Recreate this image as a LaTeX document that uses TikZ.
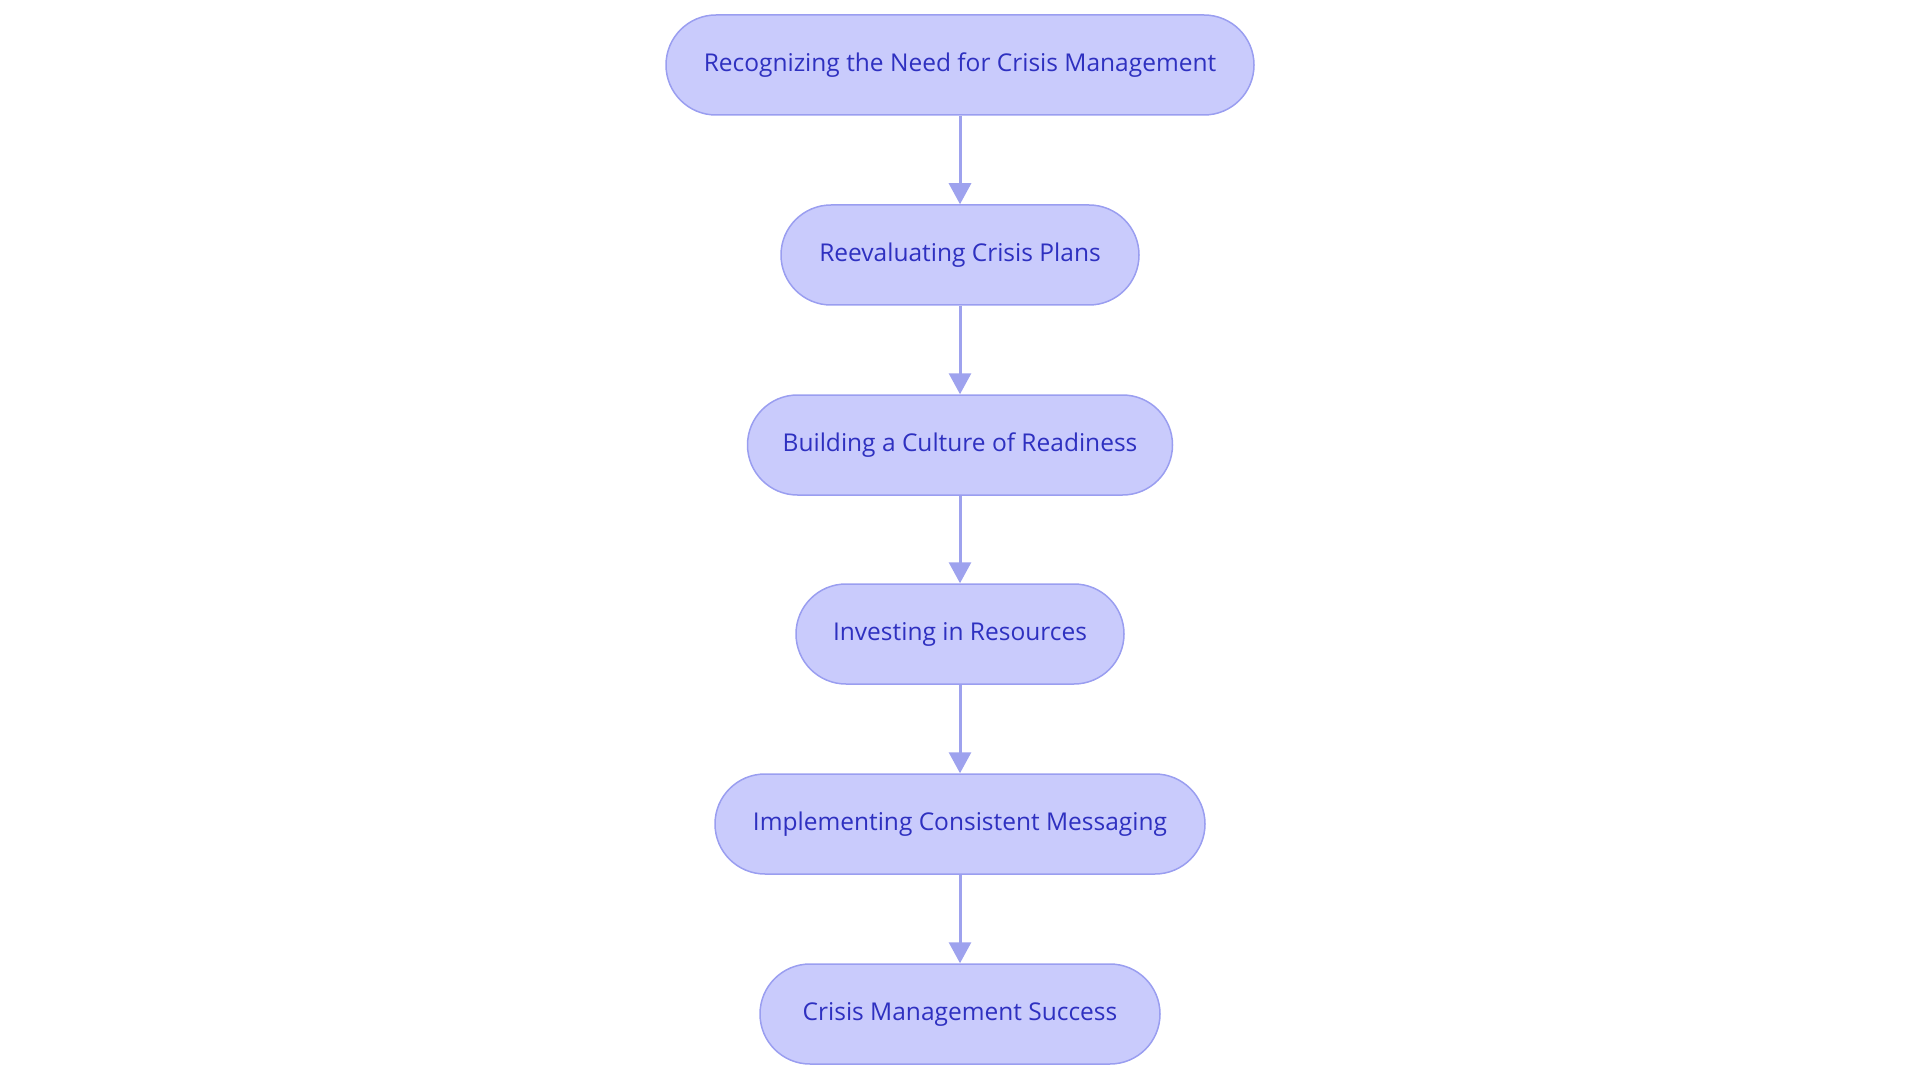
\documentclass[tikz,border=0pt]{standalone}
\usepackage{fontspec}
\setmainfont{Open Sans}
\usetikzlibrary{arrows.meta}
\definecolor{boxfill}{HTML}{C9CBFC}
\definecolor{boxline}{HTML}{9A9EF0}
\definecolor{boxtext}{HTML}{2E30C0}
\definecolor{arrowc}{HTML}{9EA2EE}
\tikzset{
  x=1pt,y=1pt,
  stage/.style={draw=boxline, line width=1.5pt, fill=boxfill, text=boxtext,
    rounded corners=50pt, minimum height=100pt, inner sep=0pt,
    font=\fontsize{24.5}{28}\selectfont},
  flow/.style={draw=arrowc, line width=3pt, -{Triangle[length=21pt,width=22pt]}}
}
\begin{document}
\begin{tikzpicture}
\useasboundingbox (0,0) rectangle (1920,-1083);
\node[stage, minimum width=588pt] (n1) at (960,-65) {Recognizing the Need for Crisis Management};
\node[stage, minimum width=358pt] (n2) at (960,-255) {Reevaluating Crisis Plans};
\node[stage, minimum width=425pt] (n3) at (960,-445) {Building a Culture of Readiness};
\node[stage, minimum width=328pt] (n4) at (960,-634) {Investing in Resources};
\node[stage, minimum width=490pt] (n5) at (960,-824) {Implementing Consistent Messaging};
\node[stage, minimum width=400pt] (n6) at (960,-1014) {Crisis Management Success};
\draw[flow] (n1) -- (n2);
\draw[flow] (n2) -- (n3);
\draw[flow] (n3) -- (n4);
\draw[flow] (n4) -- (n5);
\draw[flow] (n5) -- (n6);
\end{tikzpicture}
\end{document}
